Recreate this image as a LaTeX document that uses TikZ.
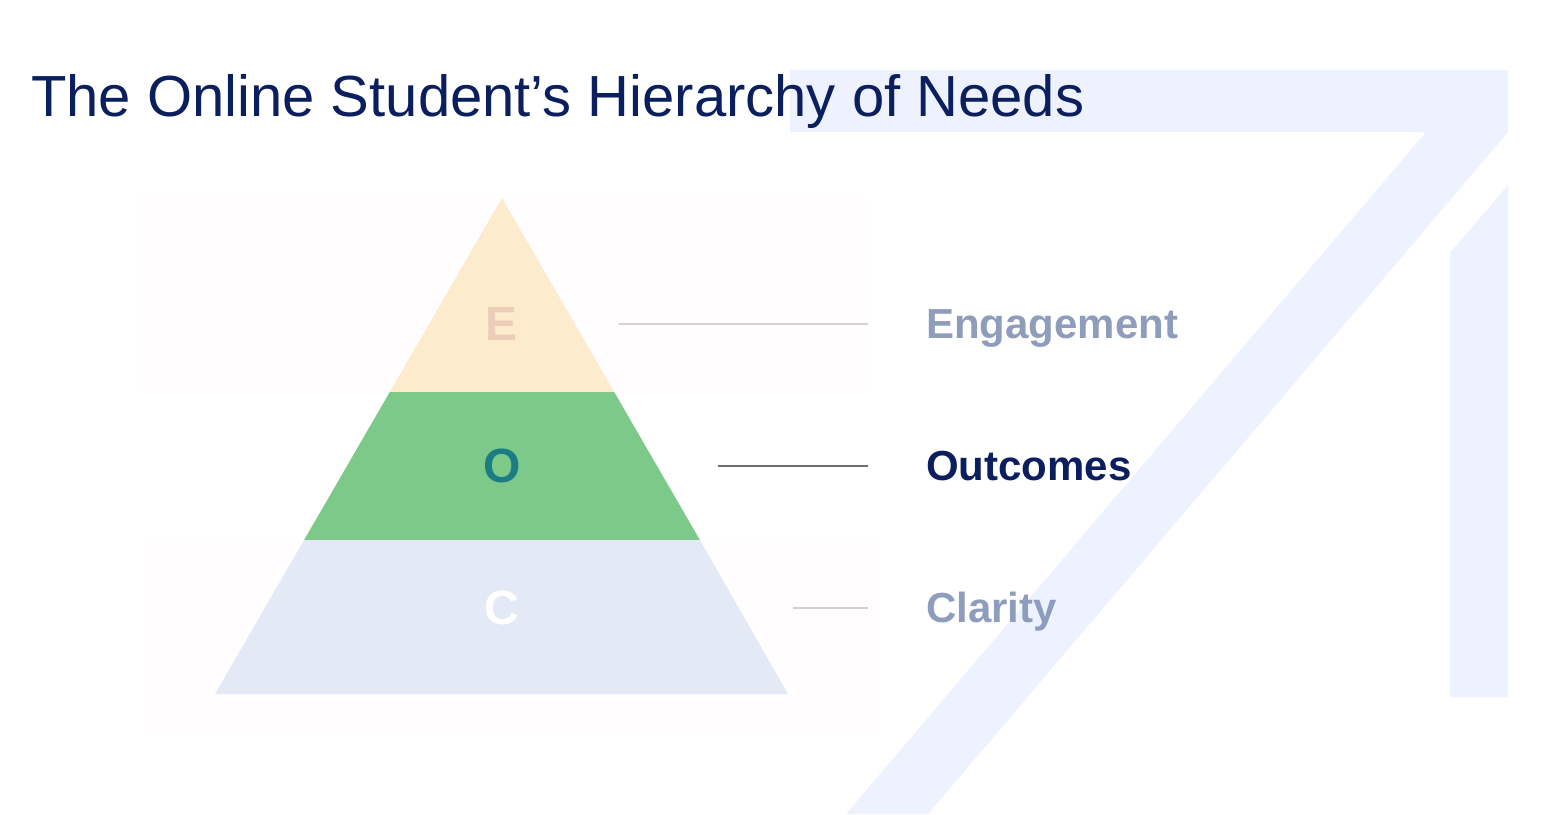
\documentclass[tikz,border=0pt]{standalone}
\usepackage{fontspec}
\setmainfont{Liberation Sans}
\newfontfamily\titlefont{Liberation Sans}
\definecolor{deco}{HTML}{EDF2FE}
\definecolor{faint}{HTML}{FFFDFD}
\definecolor{eLayer}{HTML}{FDEBCD}
\definecolor{eLetter}{HTML}{EBCDB8}
\definecolor{oLayer}{HTML}{7DC98A}
\definecolor{oLetter}{HTML}{1B7C84}
\definecolor{cLayer}{HTML}{E3EAF5}
\definecolor{navy}{HTML}{0B1F5E}
\definecolor{muted}{HTML}{8F9DBC}
\definecolor{leadlight}{HTML}{D2D2D6}
\definecolor{leaddark}{HTML}{6E6E70}
\tikzset{
  letter/.style={font=\bfseries\fontsize{48}{48}\selectfont, inner sep=0pt},
  lbl/.style={font=\bfseries\fontsize{42}{42}\selectfont, inner sep=0pt, anchor=base west},
  lightlead/.style={draw=leadlight, line width=2pt},
  darklead/.style={draw=leaddark, line width=2pt},
}
\begin{document}
\begin{tikzpicture}[x=1pt,y=-1pt]
\useasboundingbox (0,0) rectangle (1558,814);
\fill[white] (0,0) rectangle (1558,814);
% background decoration
\fill[deco] (790,70) -- (1508,70) -- (1508,132) -- (928,814) -- (846,814) -- (1426,132) -- (790,132) -- cycle;
\fill[deco] (1450,253) -- (1508,185) -- (1508,697) -- (1450,697) -- cycle;
% faint panels
\fill[faint] (135,198) rectangle (868,392);
\fill[faint] (143,541) rectangle (880,732);
% pyramid
\fill[eLayer] (502,198) -- (614.2,392) -- (389.8,392) -- cycle;
\fill[oLayer] (389.8,392) -- (614.2,392) -- (699.9,540) -- (304.1,540) -- cycle;
\fill[cLayer] (304.1,540) -- (699.9,540) -- (788,694) -- (215,694) -- cycle;
\node[letter, text=eLetter] (lE) at (502,324) {E};
\node[letter, text=oLetter] (lO) at (502,466) {O};
\node[letter, text=white] (lC) at (502,608) {C};
% title
\node[anchor=base west, inner sep=0pt, text=navy, font=\titlefont\fontsize{58}{66}\selectfont] (title) at (31,116) {The Online Student’s Hierarchy of Needs};
% labels
\node[lbl, text=muted] (tE) at (926,338) {Engagement};
\node[lbl, text=navy] (tO) at (926,480) {Outcomes};
\node[lbl, text=muted] (tC) at (926,622) {Clarity};
% leader lines
\coordinate (eS) at (619,324); \coordinate (eT) at (868,324);
\coordinate (oS) at (718,466); \coordinate (oT) at (868,466);
\coordinate (cS) at (793,608); \coordinate (cT) at (868,608);
\draw[lightlead] (eS) -- (eT);
\draw[darklead] (oS) -- (oT);
\draw[lightlead] (cS) -- (cT);
\end{tikzpicture}
\end{document}
